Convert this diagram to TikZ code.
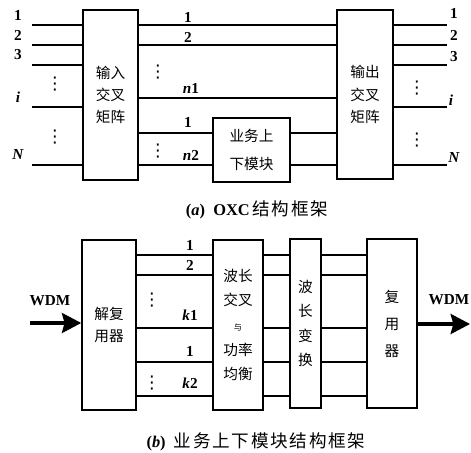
\documentclass[tikz,border=0pt]{standalone}
\usepackage{fontspec}
\setmainfont{Liberation Serif}
\newfontfamily\cjk{Noto Sans CJK SC}
\newfontfamily\cjkcap{Noto Sans CJK SC}[LetterSpace=10]
\newfontfamily\sym{DejaVu Sans}
\usetikzlibrary{arrows.meta}

\begin{document}
\begin{tikzpicture}[x=0.03cm, y=-0.03cm, line width=1.3pt,
    blk/.style={draw, line width=1.3pt, inner sep=0pt, align=center,
      font=\cjk\fontsize{12.5}{19}\selectfont},
    lbl/.style={inner sep=0pt, font=\bfseries\fontsize{13}{13}\selectfont},
    dots/.style={inner sep=0pt, font=\sym\fontsize{15}{15}\selectfont},
    captext/.style={inner sep=0pt, font=\bfseries\fontsize{14}{14}\selectfont},
    fat/.style={line width=2.8pt, -{Stealth[length=0.58cm, width=0.6cm, inset=0.08cm]}}]
\useasboundingbox (0,0) rectangle (471,453);

% (a) OXC
\node[blk, minimum width=1.65cm, minimum height=5.1cm] (inmat) at (110.5,95) {输入\\交叉\\矩阵};
\node[blk, minimum width=1.68cm, minimum height=5.07cm] (outmat) at (365,94.5) {输出\\交叉\\矩阵};
\node[blk, minimum width=2.31cm, minimum height=1.92cm, font=\cjk\fontsize{12.5}{24}\selectfont] (serv) at (251.5,150) {业务上\\下模块};

\coordinate (i1) at (32,25);
\coordinate (i2) at (32,45);
\coordinate (i3) at (32,65);
\coordinate (ii) at (32,107);
\coordinate (iN) at (32,165);
\coordinate (o1) at (447,25);
\coordinate (o2) at (447,45);
\coordinate (o3) at (447,65);
\coordinate (oi) at (447,107);
\coordinate (oN) at (447,165);

\foreach \c in {1,2,3,i,N} {
  \draw (i\c) -- (inmat.west |- i\c);
  \draw (outmat.east |- o\c) -- (o\c);
}
\draw (inmat.east |- i1) -- (outmat.west |- i1);
\draw (inmat.east |- i2) -- (outmat.west |- i2);
\draw (inmat.east |- 0,98) -- (outmat.west |- 0,98);
\draw (inmat.east |- 0,133) -- (serv.west |- 0,133);
\draw (inmat.east |- iN) -- (serv.west |- iN);
\draw (serv.east |- 0,133) -- (outmat.west |- 0,133);
\draw (serv.east |- iN) -- (outmat.west |- iN);

\node[lbl] (li1) at (18,15) {1};
\node[lbl] (li2) at (18,35) {2};
\node[lbl] (li3) at (18,55) {3};
\node[dots] (ldi) at (55,84) {⋮};
\node[lbl] (lii) at (18,97) {\textit{i}};
\node[dots] (ldN) at (55,137) {⋮};
\node[lbl] (liN) at (18,155) {\textit{N}};

\node[lbl] (lm1) at (188,17) {1};
\node[lbl] (lm2) at (188,37) {2};
\node[dots] (lmd1) at (158,72) {⋮};
\node[lbl] (lmn1) at (191,88) {\textit{n}1};
\node[lbl] (lm3) at (188,122) {1};
\node[dots] (lmd2) at (158,151) {⋮};
\node[lbl] (lmn2) at (191,155) {\textit{n}2};

\node[lbl] (lo1) at (454,13) {1};
\node[lbl] (lo2) at (454,35) {2};
\node[lbl] (lo3) at (454,57) {3};
\node[dots] (ldo) at (417,88) {⋮};
\node[lbl] (loi) at (451,100) {\textit{i}};
\node[dots] (ldoN) at (417,140) {⋮};
\node[lbl] (loN) at (454,158) {\textit{N}};

\node[captext] (capa) at (257,210) {(\textit{a})\enspace OXC\,{\cjkcap\mdseries\fontsize{15}{15}\selectfont 结构框架}};

% (b) add/drop module
\node[blk, minimum width=1.62cm, minimum height=5.1cm] (demux) at (109,325) {解复\\用器};
\node[blk, minimum width=1.5cm, minimum height=5.1cm, font=\cjk\fontsize{12.5}{21}\selectfont] (sw) at (238,325) {波长\\交叉\\{\fontsize{7}{7}\selectfont 与}\\功率\\均衡};
\node[blk, minimum width=0.93cm, minimum height=5.07cm, font=\cjk\fontsize{12.5}{21}\selectfont] (conv) at (305.5,323.5) {波\\长\\变\\换};
\node[blk, minimum width=1.5cm, minimum height=5.07cm, font=\cjk\fontsize{12.5}{23}\selectfont] (mux) at (392,323.5) {复\\用\\器};

\foreach \y in {255,275,328,362,396} {
  \draw (demux.east |- 0,\y) -- (sw.west |- 0,\y);
  \draw (sw.east |- 0,\y) -- (conv.west |- 0,\y);
  \draw (conv.east |- 0,\y) -- (mux.west |- 0,\y);
}

\coordinate (win) at (30,323);
\coordinate (wout) at (470,324);
\draw[fat] (win) -- (demux.west |- win);
\draw[fat] (mux.east |- wout) -- (wout);
\node[lbl] (lwin) at (50,301) {WDM};
\node[lbl] (lwout) at (449,300) {WDM};

\node[lbl] (lb1) at (190,245) {1};
\node[lbl] (lb2) at (190,265) {2};
\node[dots] (lbd1) at (152,300) {⋮};
\node[lbl] (lbk1) at (190,315) {\textit{k}1};
\node[lbl] (lb3) at (190,351) {1};
\node[dots] (lbd2) at (152,383) {⋮};
\node[lbl] (lbk2) at (190,383) {\textit{k}2};

\node[captext] (capb) at (256,442) {(\textit{b})\enspace{\cjkcap\mdseries\fontsize{15}{15}\selectfont 业务上下模块结构框架}};
\end{tikzpicture}
\end{document}
